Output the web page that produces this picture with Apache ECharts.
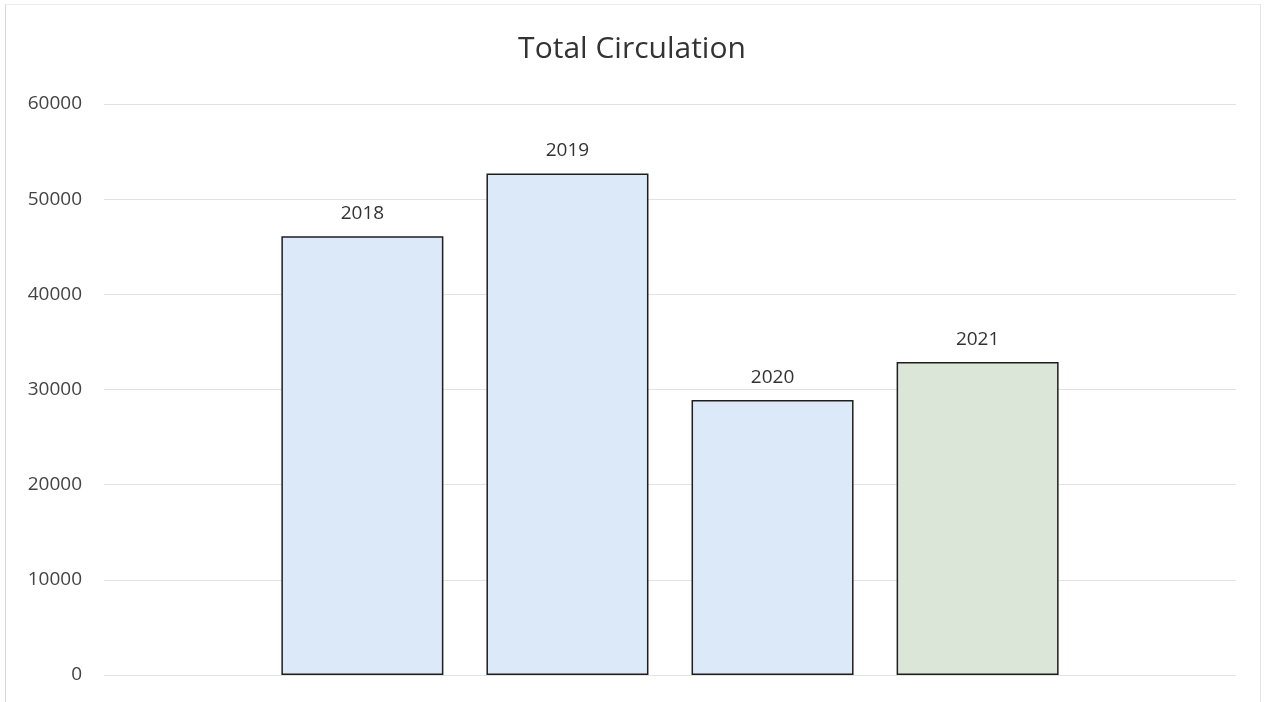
<!DOCTYPE html>
<html>
<head>
<meta charset="utf-8">
<script src="https://cdn.jsdelivr.net/npm/echarts@6/dist/echarts.min.js"></script>
<style>
  html, body { margin: 0; padding: 0; background: #fff; }
  #frame { position: absolute; left: 5px; top: 4px; width: 1254px; height: 700px;
           border-left: 1px solid #d8d8d8; border-top: 1px solid #eeeeee; border-right: 1px solid #e4e4e4; }
  #chart { position: absolute; left: 0; top: 0; width: 1264px; height: 702px; }
</style>
</head>
<body>
<div id="frame"></div>
<div id="chart"></div>
<script>
// 数据
var years = ['2018', '2019', '2020', '2021'];
var circulation = [46100, 52700, 28900, 32900];
var barColors = ['#dbe9f9', '#dbe9f9', '#dbe9f9', '#dce6d8'];
var yTicks = [0, 10000, 20000, 30000, 40000, 50000, 60000];

var chart = echarts.init(document.getElementById('chart'));

var seriesData = [];
for (var i = 0, len = years.length; i < len; i++) {
    seriesData.push({
        value: [i, circulation[i]],
        name: years[i],
        itemStyle: { color: barColors[i] }
    });
}

chart.setOption({
    animation: false,
    title: {
        text: 'Total Circulation',
        left: 'center',
        top: 29,
        textStyle: { fontFamily: 'Open Sans', fontSize: 30, fontWeight: 'normal', color: '#333' }
    },
    grid: { left: 104, right: 28, top: 104, bottom: 27 },
    xAxis: {
        type: 'value',
        min: -1.26,
        max: 4.26,
        show: false
    },
    yAxis: {
        type: 'value',
        min: yTicks[0],
        max: yTicks[yTicks.length - 1],
        interval: 10000,
        axisLine: { show: false },
        axisTick: { show: false },
        axisLabel: {
            fontFamily: 'Open Sans', fontSize: 19, color: '#444', margin: 22,
            formatter: function (v) { return String(v); }
        },
        splitLine: { lineStyle: { color: '#e2e2e2', width: 1 } }
    },
    series: [{
        type: 'bar',
        barWidth: 162,
        data: seriesData,
        itemStyle: { borderColor: '#1e1e1e', borderWidth: 1.5 },
        label: {
            show: true,
            position: 'top',
            distance: 13,
            formatter: function (p) { return p.name; },
            fontFamily: 'Open Sans',
            fontSize: 19,
            color: '#333'
        }
    }]
});
</script>
</body>
</html>
